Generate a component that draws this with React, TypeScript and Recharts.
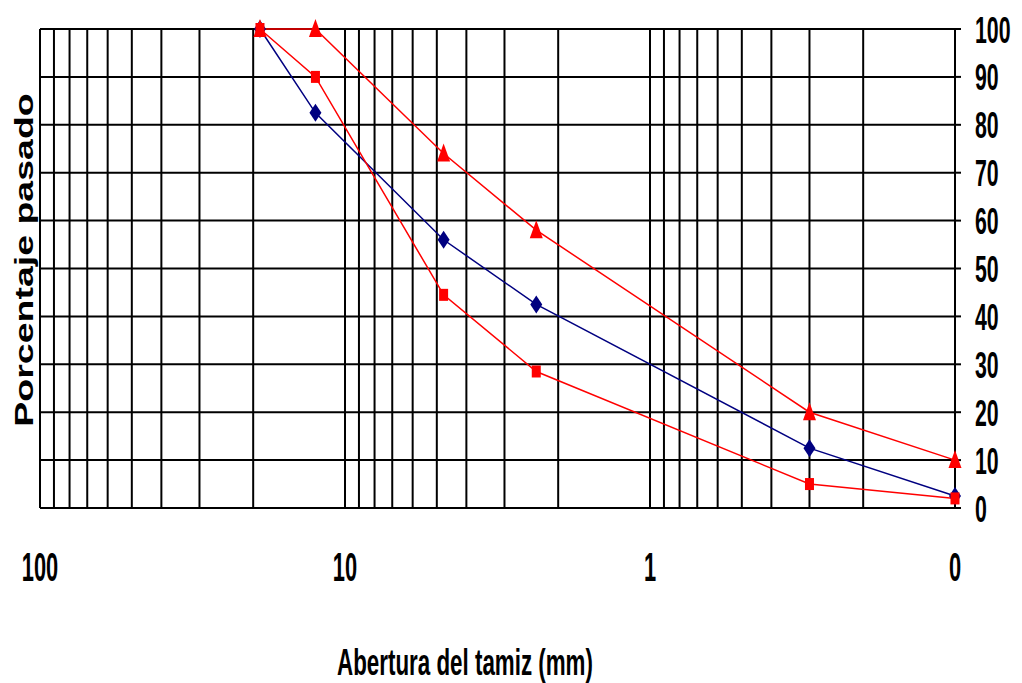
import React from "react";
import { LineChart, Line, XAxis, YAxis, CartesianGrid, Label } from "recharts";

// page has a default 8px body margin; the chart fills the window instead
if (typeof document !== "undefined") document.body.style.margin = "0";

// Sieve openings (mm) and percent passing
const SIEVE_MM = [19, 12.5, 4.75, 2.36, 0.3, 0.1];
const MUESTRA = [100, 82.5, 56, 42.5, 12.5, 2.5];
const LIMITE_SUP = [100, 100, 74, 58, 20, 10];
const LIMITE_INF = [100, 90, 44.5, 28.5, 5, 2];

// log grid lines (every 1..9 of each decade) and the labelled decades
const X_GRID = [
  100, 90, 80, 70, 60, 50, 40, 30, 20, 10, 9, 8, 7, 6, 5, 4, 3, 2, 1, 0.9, 0.8,
  0.7, 0.6, 0.5, 0.4, 0.3, 0.2, 0.1,
];
const X_DECADES = [100, 10, 1, 0.1];
const X_DECADE_LABELS = ["100", "10", "1", "0"];
const Y_TICKS = [0, 10, 20, 30, 40, 50, 60, 70, 80, 90, 100];

const RED = "#ff0000";
const NAVY = "#000080";
const FONT = "'Liberation Sans', Arial, sans-serif";

const rows = SIEVE_MM.map((size, i) => ({
  size,
  muestra: MUESTRA[i],
  sup: LIMITE_SUP[i],
  inf: LIMITE_INF[i],
}));

function XTick(props: any) {
  const { x, payload } = props;
  const idx = X_DECADES.findIndex((d) => Math.abs(d - payload.value) < 1e-9);
  if (idx < 0) return <g />;
  return (
    <text
      transform={`translate(${x},581) scale(0.84,1.56)`}
      textAnchor="middle"
      fontSize={26}
      fontWeight="bold"
      fontFamily={FONT}
      fill="#000"
    >
      {X_DECADE_LABELS[idx]}
    </text>
  );
}

function YTick(props: any) {
  const { y, payload } = props;
  return (
    <text
      transform={`translate(975,${y + 13.5}) scale(0.82,1.45)`}
      textAnchor="start"
      fontSize={26}
      fontWeight="bold"
      fontFamily={FONT}
      fill="#000"
    >
      {payload.value}
    </text>
  );
}

function Diamond(props: any) {
  const { cx, cy, index } = props;
  return (
    <polygon
      key={`d${index}`}
      points={`${cx},${cy - 9} ${cx + 6},${cy} ${cx},${cy + 9} ${cx - 6},${cy}`}
      fill={NAVY}
    />
  );
}

function Square(props: any) {
  const { cx, cy, index } = props;
  return <rect key={`s${index}`} x={cx - 4.5} y={cy - 6} width={9} height={12} fill={RED} />;
}

function Triangle(props: any) {
  const { cx, cy, index } = props;
  return (
    <polygon
      key={`t${index}`}
      points={`${cx},${cy - 10} ${cx + 6.5},${cy + 8} ${cx - 6.5},${cy + 8}`}
      fill={RED}
    />
  );
}

const xTitle = () => (
  <text
    transform="translate(465,675) scale(0.86,1.45)"
    textAnchor="middle"
    fontSize={26}
    fontWeight="bold"
    fontFamily={FONT}
    fill="#000"
  >
    Abertura del tamiz (mm)
  </text>
);

const yTitle = () => (
  <text
    transform="translate(33,260) rotate(-90) scale(1.5,1)"
    textAnchor="middle"
    fontSize={25}
    fontWeight="bold"
    fontFamily={FONT}
    fill="#000"
  >
    Porcentaje pasado
  </text>
);

export default function App() {
  return (
    <div style={{ width: 1022, height: 683, background: "#fff" }}>
      <LineChart
        width={1022}
        height={683}
        data={rows}
        margin={{ top: 29, right: 0, left: 40, bottom: 0 }}
      >
        <CartesianGrid stroke="#000" strokeWidth={2} />
        <XAxis
          dataKey="size"
          type="number"
          scale="log"
          domain={[0.1, 100]}
          reversed
          ticks={X_GRID}
          interval={0}
          axisLine={false}
          tickLine={false}
          height={175}
          tick={<XTick />}
        >
          <Label content={xTitle} />
        </XAxis>
        <YAxis
          orientation="right"
          type="number"
          domain={[0, 100]}
          ticks={Y_TICKS}
          interval={0}
          width={67}
          axisLine={{ stroke: "#000", strokeWidth: 1 }}
          tickLine={{ stroke: "#000", strokeWidth: 2 }}
          tickSize={6}
          tick={<YTick />}
        >
          <Label content={yTitle} />
        </YAxis>
        <Line
          dataKey="muestra"
          stroke={NAVY}
          strokeWidth={1.5}
          dot={Diamond}
          activeDot={false}
          isAnimationActive={false}
        />
        <Line
          dataKey="inf"
          stroke={RED}
          strokeWidth={1.5}
          dot={Square}
          activeDot={false}
          isAnimationActive={false}
        />
        <Line
          dataKey="sup"
          stroke={RED}
          strokeWidth={1.5}
          dot={Triangle}
          activeDot={false}
          isAnimationActive={false}
        />
      </LineChart>
    </div>
  );
}
